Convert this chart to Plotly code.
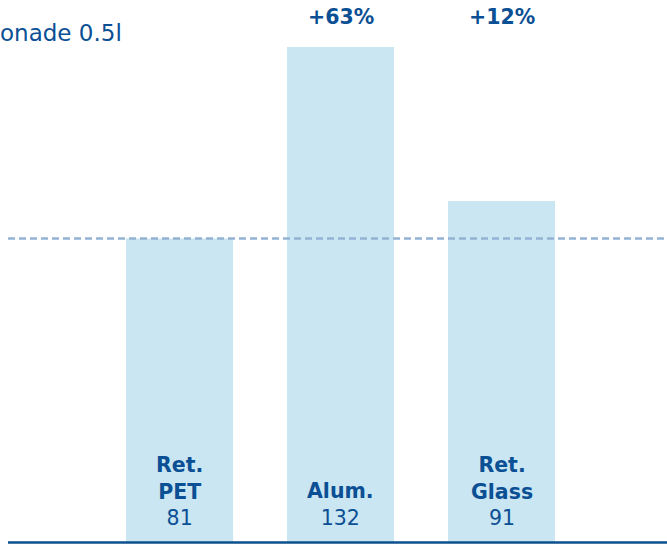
import plotly.graph_objects as go

# Packaging variants and their index values
categories = ["Ret.<br>PET", "Alum.", "Ret.<br>Glass"]
values = [81, 132, 91]
title_text = "onade 0.5l"

BAR_COLOR = "#c9e6f2"
TEXT_COLOR = "#0b4f94"
REF_COLOR = "#94b3d4"
BASE_COLOR = "#0b4f8c"
FONT = "DejaVu Sans, Liberation Sans, Arial, sans-serif"

x_pos = list(range(1, len(values) + 1))
base = values[0]
pct_labels = [""] + [f"+{round((v / base - 1) * 100)}%" for v in values[1:]]

fig = go.Figure()
fig.add_trace(go.Bar(
    x=x_pos, y=values, width=0.665,
    marker=dict(color=BAR_COLOR, line=dict(width=0)),
    hoverinfo="skip",
))

# Category name and value inside the bottom of each bar
for x, cat, v in zip(x_pos, categories, values):
    fig.add_annotation(
        x=x, y=0, xref="x", yref="y", yanchor="bottom", yshift=11,
        text=f"<b>{cat}</b><br>{v}", showarrow=False, align="center",
        font=dict(family=FONT, size=20.5, color=TEXT_COLOR),
    )

# Change versus the first variant, above the bars
for x, lab in zip(x_pos, pct_labels):
    if lab:
        fig.add_annotation(
            x=x, y=1, xref="x", yref="paper", yanchor="middle", yshift=-17,
            text=f"<b>{lab}</b>", showarrow=False,
            font=dict(family=FONT, size=20.5, color=TEXT_COLOR),
        )

fig.add_annotation(
    x=0, y=1, xref="paper", yref="paper", xanchor="left", yanchor="middle",
    xshift=-2, yshift=-33, text=title_text, showarrow=False,
    font=dict(family=FONT, size=23, color=TEXT_COLOR),
)

# Reference level of the first variant
fig.add_shape(type="line", xref="paper", yref="y", x0=0.012, x1=1, y0=base, y1=base,
              line=dict(color=REF_COLOR, width=2.5, dash="7px,4px"), layer="above")
# Baseline
fig.add_shape(type="line", xref="paper", yref="y", x0=0.012, x1=1, y0=0, y1=0,
              line=dict(color=BASE_COLOR, width=2.5), layer="above")

fig.update_layout(
    width=667, height=544,
    margin=dict(l=0, r=0, t=0, b=0),
    paper_bgcolor="white", plot_bgcolor="white",
    showlegend=False,
    xaxis=dict(range=[-0.115, 4.028], visible=False, fixedrange=True),
    yaxis=dict(range=[-0.4, 144.55], visible=False, fixedrange=True),
)

fig.write_html("out.html")
